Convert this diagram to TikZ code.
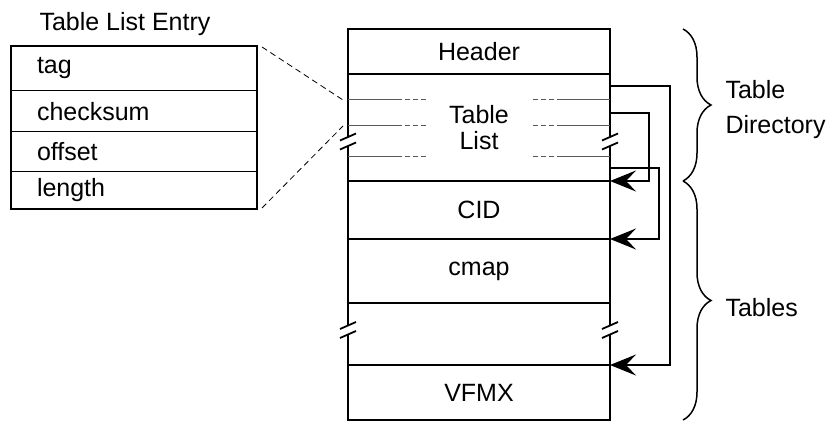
\documentclass[tikz,border=0pt]{standalone}
\usepackage{fontspec}
\setmainfont{Liberation Sans}
\usetikzlibrary{positioning,calc,arrows.meta,decorations.pathreplacing}

\tikzset{
  sect/.style={draw, line width=2pt, minimum width=262pt, outer sep=0pt, inner sep=0pt},
  entry/.style={draw, line width=1pt, text width=194pt, inner xsep=26pt, inner ysep=0pt, align=left, outer sep=0pt},
  rowline/.style={draw=gray!70!black, line width=1pt},
  rowdash/.style={rowline, dash pattern=on 5pt off 3pt},
  link/.style={line width=2pt, -{Stealth[length=26pt,width=21pt,inset=10pt]}},
  zoomline/.style={line width=0.8pt, dash pattern=on 6pt off 4pt},
  brace/.style={decorate, decoration={brace, amplitude=28pt}, line width=1.5pt},
  brk/.pic={
    \fill[white] (-8,-1) -- (8,-8) -- (8,1) -- (-8,8) -- cycle;
    \draw[line width=1.8pt] (-8,-1) -- (8,-8) (-8,8) -- (8,1);
  }
}

\begin{document}
\begin{tikzpicture}[x=1pt,y=-1pt,font=\fontsize{25}{26}\selectfont]
  \useasboundingbox (0,0) rectangle (836,422);

  % table list entry
  \node (ttl) at (125,24) {Table List Entry};
  \node[entry, minimum height=45pt] (tag) at (134,68.5) {tag};
  \node[entry, minimum height=41pt, below=0pt of tag] (chk) {checksum};
  \node[entry, minimum height=40pt, below=0pt of chk] (off) {offset};
  \node[entry, minimum height=37pt, below=0pt of off] (len) {length};
  \draw[line width=2pt] (tag.north west) rectangle (len.south east);

  % file layout
  \node[sect, minimum height=45pt] (hdr) at (479,51.5) {Header};
  \node[sect, minimum height=107pt, below=0pt of hdr, align=center] (lst) {Table\\List};
  \node[sect, minimum height=58pt, below=0pt of lst] (cid) {CID};
  \node[sect, minimum height=64pt, below=0pt of cid] (cmap) {cmap};
  \node[sect, minimum height=62pt, below=0pt of cmap] (gap) {};
  \node[sect, minimum height=55pt, below=0pt of gap] (vfmx) {VFMX};

  \foreach \dy in {26,52,83} {
    \draw[rowline] ($(lst.north west)+(0,\dy)$) -- ++(54,0);
    \draw[rowdash] ($(lst.north west)+(57,\dy)$) -- ++(22,0);
    \draw[rowdash] ($(lst.north east)+(-77,\dy)$) -- ++(22,0);
    \draw[rowline] ($(lst.north east)+(-53,\dy)$) -- ++(53,0);
  }

  \pic at ($(lst.west)+(0,14)$) {brk};
  \pic at ($(lst.east)+(0,14)$) {brk};
  \pic at ($(gap.west)+(0,-4)$) {brk};
  \pic at ($(gap.east)+(0,-4)$) {brk};

  \draw[zoomline] ($(tag.north east)+(5,1)$) -- ($(lst.north west)+(-5,26)$);
  \draw[zoomline] ($(len.south east)+(5,-1)$) -- ($(lst.north west)+(-5,52)$);

  % offsets
  \draw[link] ($(lst.north east)+(0,12)$) -- ++(60,0) |- (vfmx.north east);
  \draw[link] ($(lst.north east)+(0,39)$) -- ++(39,0) |- (cid.north east);
  \draw[link] ($(lst.north east)+(0,94)$) -- ++(49,0) |- (cmap.north east);

  % braces
  \draw[brace] ($(hdr.north east)+(73,0)$) -- ($(lst.south east)+(73,0)$);
  \draw[brace] ($(cid.north east)+(73,0)$) -- ($(vfmx.south east)+(73,0)$);
  \node[anchor=west, align=left, font=\fontsize{25}{35}\selectfont] (tdir) at (722,110) {Table\\Directory};
  \node[anchor=west] (tabs) at (722,308) {Tables};
\end{tikzpicture}
\end{document}
